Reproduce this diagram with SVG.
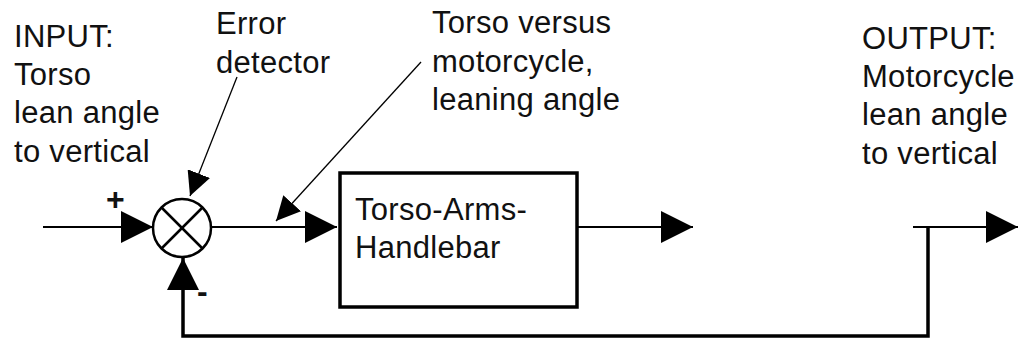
<svg xmlns="http://www.w3.org/2000/svg" width="1018" height="340" viewBox="0 0 1018 340">
<style>
text{font-family:"Liberation Sans",Arial,sans-serif;font-size:31px;letter-spacing:0.3px;fill:#111}
.ln{stroke:#000;stroke-width:2;fill:none}
.fb{stroke:#000;stroke-width:3.5;fill:none}
.thin{stroke:#000;stroke-width:1.3;fill:none}
.sign{font-weight:bold;font-size:32px}
</style>
<defs>
<marker id="ah" markerUnits="userSpaceOnUse" markerWidth="32" markerHeight="32" viewBox="0 0 30 30" refX="30" refY="15" orient="auto">
<path d="M0,0 L30,15 L0,30 Z" fill="#000"/>
</marker>
<marker id="ahs" markerUnits="userSpaceOnUse" markerWidth="24" markerHeight="24" viewBox="0 0 24 24" refX="24" refY="12" orient="auto">
<path d="M0,0 L24,12 L0,24 Z" fill="#000"/>
</marker>
</defs>
<g id="labels">
<text x="14" y="47">INPUT:</text>
<text x="14" y="85">Torso</text>
<text x="14" y="123">lean angle</text>
<text x="14" y="162">to vertical</text>
<text x="216" y="34">Error</text>
<text x="216" y="73">detector</text>
<text x="432" y="33">Torso versus</text>
<text x="432" y="72">motorcycle,</text>
<text x="432" y="110">leaning angle</text>
<text x="862" y="49">OUTPUT:</text>
<text x="862" y="87">Motorcycle</text>
<text x="862" y="125">lean angle</text>
<text x="862" y="164">to vertical</text>
<text class="sign" x="106" y="210">+</text>
<text class="sign" x="197" y="302">-</text>
</g>
<g id="summing-junction">
<circle cx="182" cy="228" r="29" fill="#fff" stroke="#000" stroke-width="2.5"/>
<line x1="161.5" y1="207.5" x2="202.5" y2="248.5" stroke="#000" stroke-width="2.5"/>
<line x1="202.5" y1="207.5" x2="161.5" y2="248.5" stroke="#000" stroke-width="2.5"/>
</g>
<g id="block">
<rect x="340" y="173" width="237" height="134" fill="#fff" stroke="#000" stroke-width="3.5"/>
<text x="355" y="220">Torso-Arms-</text>
<text x="355" y="258">Handlebar</text>
</g>
<g id="connectors">
<line class="ln" x1="43" y1="227" x2="153" y2="227" marker-end="url(#ah)"/>
<line class="ln" x1="211" y1="227" x2="337" y2="227" marker-end="url(#ah)"/>
<line class="ln" x1="577" y1="227" x2="693" y2="227" marker-end="url(#ah)"/>
<line class="ln" x1="913" y1="227" x2="1018" y2="227" marker-end="url(#ah)"/>
<polyline class="fb" points="928,226 928,336 183,336 183,258" marker-end="url(#ah)"/>
<line class="thin" x1="237" y1="77" x2="190" y2="196" marker-end="url(#ahs)"/>
<line class="thin" x1="421" y1="62" x2="276" y2="221" marker-end="url(#ahs)"/>
</g>
</svg>
